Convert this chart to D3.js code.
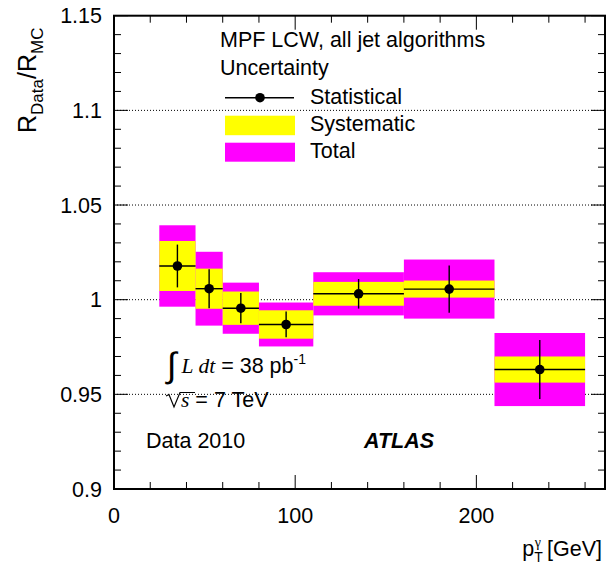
<!DOCTYPE html>
<html>
<head>
<meta charset="utf-8">
<script src="https://cdn.jsdelivr.net/npm/d3@7"></script>
<style>
  html, body { margin: 0; padding: 0; background: #fff; }
  svg text { font-family: "Liberation Sans", Arial, Helvetica, sans-serif; }
</style>
</head>
<body>
<script>
// ---- data ----
const binLow  = [25, 45, 60, 80, 110, 160, 210];
const binHigh = [45, 60, 80, 110, 160, 210, 260];
const ratio   = [1.0178, 1.0058, 0.9955, 0.9869, 1.0031, 1.0056, 0.9631];
const statErr = [0.0113, 0.0103, 0.0080, 0.0068, 0.0078, 0.0125, 0.0156];
const sysErr  = [0.0132, 0.0106, 0.0088, 0.0075, 0.0063, 0.0045, 0.0069];
const totErr  = [0.0215, 0.0195, 0.0135, 0.0116, 0.0114, 0.0156, 0.0193];
const xTicksMajor = [0, 100, 200];
const yTicksMajor = [0.9, 0.95, 1.0, 1.05, 1.1, 1.15];
const yTickLabels = ["0.9", "0.95", "1", "1.05", "1.1", "1.15"];
const legendLabels = ["Statistical", "Systematic", "Total"];

const W = 611, H = 571;
const mL = 114, mR = 605, mT = 15.7, mB = 489;

const svg = d3.select("body").append("svg").attr("width", W).attr("height", H);

const x = d3.scaleLinear().domain([0, 271]).range([mL, mR]);
const y = d3.scaleLinear().domain([0.9, 1.15]).range([mB, mT]);

const FS = 21.5;

// grid lines (dotted) at major y ticks inside the frame
svg.append("g").selectAll("line").data(yTicksMajor.slice(1, -1)).join("line")
  .attr("x1", mL).attr("x2", mR)
  .attr("y1", d => y(d)).attr("y2", d => y(d))
  .attr("stroke", "#000").attr("stroke-width", 1).attr("stroke-dasharray", "1,2");

const rows = ratio.map((v, i) => ({lo: binLow[i], hi: binHigh[i], v, s: statErr[i], sy: sysErr[i], t: totErr[i]}));

// total uncertainty boxes
svg.append("g").selectAll("rect").data(rows).join("rect")
  .attr("x", d => x(d.lo)).attr("width", d => x(d.hi) - x(d.lo))
  .attr("y", d => y(d.v + d.t)).attr("height", d => y(d.v - d.t) - y(d.v + d.t))
  .attr("fill", "#ff00ff");
// systematic uncertainty boxes
svg.append("g").selectAll("rect").data(rows).join("rect")
  .attr("x", d => x(d.lo)).attr("width", d => x(d.hi) - x(d.lo))
  .attr("y", d => y(d.v + d.sy)).attr("height", d => y(d.v - d.sy) - y(d.v + d.sy))
  .attr("fill", "#ffff00");
// horizontal bin-width bars
svg.append("g").selectAll("line").data(rows).join("line")
  .attr("x1", d => x(d.lo)).attr("x2", d => x(d.hi))
  .attr("y1", d => y(d.v)).attr("y2", d => y(d.v))
  .attr("stroke", "#000").attr("stroke-width", 1.4);
// statistical error bars
svg.append("g").selectAll("line").data(rows).join("line")
  .attr("x1", d => x((d.lo + d.hi) / 2)).attr("x2", d => x((d.lo + d.hi) / 2))
  .attr("y1", d => y(d.v + d.s)).attr("y2", d => y(d.v - d.s))
  .attr("stroke", "#000").attr("stroke-width", 1.4);
// markers
svg.append("g").selectAll("circle").data(rows).join("circle")
  .attr("cx", d => x((d.lo + d.hi) / 2)).attr("cy", d => y(d.v)).attr("r", 4.8)
  .attr("fill", "#000");

// axes (ticks inward), mirrored
const majLen = 14, minLen = 7;
const yMinor = d3.range(0, 26).map(i => +(0.9 + i * 0.01).toFixed(2));
const xMinor = d3.range(0, 271, 20);

function ticksY(g, xpos, dir) {
  g.selectAll(".mn").data(yMinor).join("line").attr("class", "mn")
    .attr("x1", xpos).attr("x2", d => xpos + dir * (yTicksMajor.some(m => Math.abs(m - d) < 1e-6) ? majLen : minLen))
    .attr("y1", d => y(d)).attr("y2", d => y(d))
    .attr("stroke", "#000").attr("stroke-width", 1);
}
function ticksX(g, ypos, dir) {
  g.selectAll(".mn").data(xMinor).join("line").attr("class", "mn")
    .attr("y1", ypos).attr("y2", d => ypos + dir * (d % 100 === 0 ? majLen : minLen))
    .attr("x1", d => x(d)).attr("x2", d => x(d))
    .attr("stroke", "#000").attr("stroke-width", 1);
}
ticksY(svg.append("g"), mL, 1);
ticksY(svg.append("g"), mR, -1);
ticksX(svg.append("g"), mB, -1);
ticksX(svg.append("g"), mT, 1);

// frame
svg.append("rect").attr("x", mL).attr("y", mT).attr("width", mR - mL).attr("height", mB - mT)
  .attr("fill", "none").attr("stroke", "#000").attr("stroke-width", 2);

// tick labels
svg.append("g").selectAll("text").data(yTicksMajor).join("text")
  .attr("x", 102).attr("y", d => y(d) + 7.5).attr("text-anchor", "end")
  .attr("font-size", FS).text((d, i) => yTickLabels[i]);
svg.append("g").selectAll("text").data(xTicksMajor).join("text")
  .attr("x", d => x(d)).attr("y", 523).attr("text-anchor", "middle")
  .attr("font-size", FS).text(d => d);

// y title
const yt = svg.append("text").attr("transform", "translate(36,133) rotate(-90)").attr("font-size", 25);
yt.append("tspan").text("R");
yt.append("tspan").attr("font-size", 17).attr("dy", 7).text("Data");
yt.append("tspan").attr("dy", -7).text("/R");
yt.append("tspan").attr("font-size", 17).attr("dy", 7).text("MC");

// x title
const xt = svg.append("text").attr("x", 602).attr("y", 556).attr("text-anchor", "end").attr("font-size", FS);
xt.append("tspan").text("p");
xt.append("tspan").attr("font-size", 14).attr("dy", 6).text("T");
xt.append("tspan").attr("font-size", 14).attr("dx", -8).attr("dy", -15).attr("font-family", "Liberation Serif").text("γ");
xt.append("tspan").attr("dy", 9).attr("dx", 6).text("[GeV]");

// legend
svg.append("text").attr("x", 220).attr("y", 47.3).attr("font-size", FS).text("MPF LCW, all jet algorithms");
svg.append("text").attr("x", 220).attr("y", 75).attr("font-size", FS).text("Uncertainty");
svg.append("line").attr("x1", 225).attr("x2", 294).attr("y1", 97.7).attr("y2", 97.7).attr("stroke", "#000").attr("stroke-width", 1.4);
svg.append("circle").attr("cx", 260).attr("cy", 97.7).attr("r", 4.8).attr("fill", "#000");
svg.append("rect").attr("x", 225).attr("y", 115.7).attr("width", 70).attr("height", 19.5).attr("fill", "#ffff00");
svg.append("rect").attr("x", 225).attr("y", 142.7).attr("width", 70).attr("height", 19).attr("fill", "#ff00ff");
svg.append("g").selectAll("text").data(legendLabels).join("text")
  .attr("x", 310).attr("y", (d, i) => [104.3, 130.5, 158.3][i]).attr("font-size", FS).text(d => d);

// luminosity annotation
svg.append("text").attr("x", 167).attr("y", 377).attr("font-size", 35).attr("font-family", "Liberation Serif").text("∫");
const lum = svg.append("text").attr("x", 181.5).attr("y", 373.3).attr("font-size", FS);
lum.append("tspan").attr("font-family", "Liberation Serif").attr("font-style", "italic").text("L dt");
lum.append("tspan").text(" = 38 pb");
lum.append("tspan").attr("font-size", 14).attr("dy", -9).text("-1");

// sqrt(s)
const sq = d3.path();
sq.moveTo(166, 396); sq.lineTo(169, 394.5); sq.lineTo(174, 407); sq.lineTo(180, 392.5); sq.lineTo(195, 392.5);
svg.append("path").attr("d", sq.toString()).attr("fill", "none").attr("stroke", "#000").attr("stroke-width", 1.2);
const rs = svg.append("text").attr("x", 181).attr("y", 406.7).attr("font-size", FS);
rs.append("tspan").attr("font-family", "Liberation Serif").attr("font-style", "italic").text("s");
rs.append("tspan").text(" = 7 TeV");

svg.append("text").attr("x", 146).attr("y", 448).attr("font-size", FS).text("Data 2010");
svg.append("text").attr("x", 364).attr("y", 448).attr("font-size", FS).attr("font-weight", "bold").attr("font-style", "italic").text("ATLAS");
</script>
</body>
</html>
